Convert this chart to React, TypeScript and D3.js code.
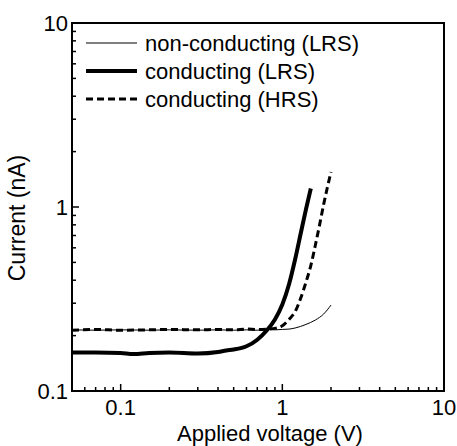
import { useEffect, useRef } from "react";
import * as d3 from "d3";

// voltage (V) and current (nA)
const nonCondV = [0.05, 0.07, 0.1, 0.15, 0.2, 0.3, 0.4, 0.5, 0.6, 0.7, 0.8, 0.9, 1.0, 1.1, 1.2, 1.4, 1.6, 1.8, 2.0];
const nonCondI = [0.215, 0.214, 0.215, 0.214, 0.215, 0.214, 0.215, 0.214, 0.215, 0.214, 0.216, 0.215, 0.216, 0.217, 0.22, 0.23, 0.243, 0.262, 0.293];

const condLrsV = [0.05, 0.07, 0.1, 0.12, 0.15, 0.2, 0.3, 0.4, 0.45, 0.5, 0.6, 0.7, 0.8, 0.9, 1.0, 1.1, 1.2, 1.3, 1.4, 1.5];
const condLrsI = [0.162, 0.162, 0.161, 0.159, 0.161, 0.162, 0.16, 0.163, 0.166, 0.168, 0.175, 0.19, 0.213, 0.245, 0.295, 0.38, 0.52, 0.72, 0.97, 1.26];

const condHrsV = [0.05, 0.07, 0.1, 0.15, 0.2, 0.3, 0.4, 0.5, 0.6, 0.7, 0.8, 0.9, 1.0, 1.1, 1.2, 1.3, 1.4, 1.5, 1.6, 1.7, 1.8, 1.9, 2.0];
const condHrsI = [0.214, 0.216, 0.214, 0.215, 0.216, 0.215, 0.216, 0.215, 0.217, 0.216, 0.217, 0.219, 0.226, 0.245, 0.27, 0.32, 0.39, 0.48, 0.62, 0.8, 1.03, 1.28, 1.55];

const legendLabels = ["non-conducting (LRS)", "conducting (LRS)", "conducting (HRS)"];
const xTickLabels = [0.1, 1, 10];
const yTickLabels = [0.1, 1, 10];

function App() {
  const svgRef = useRef<SVGSVGElement | null>(null);

  useEffect(() => {
    const svg = d3.select(svgRef.current);
    svg.selectAll("*").remove();

    const margin = { top: 23, right: 13, bottom: 55, left: 72 };
    const width = 457;
    const height = 446;

    const x = d3.scaleLog().domain([0.05, 10]).range([margin.left, width - margin.right]);
    const y = d3.scaleLog().domain([0.1, 10]).range([height - margin.bottom, margin.top]);

    const font = "Liberation Sans, Arial, sans-serif";

    // minor / major ticks, drawn inward
    const xMinor = [0.06, 0.07, 0.08, 0.09, 0.2, 0.3, 0.4, 0.5, 0.6, 0.7, 0.8, 0.9, 2, 3, 4, 5, 6, 7, 8, 9];
    const yMinor = [0.2, 0.3, 0.4, 0.5, 0.6, 0.7, 0.8, 0.9, 2, 3, 4, 5, 6, 7, 8, 9];
    const y0 = height - margin.bottom;

    svg.append("g")
      .selectAll("line")
      .data(xMinor)
      .join("line")
      .attr("x1", (d) => x(d)).attr("x2", (d) => x(d))
      .attr("y1", y0).attr("y2", y0 - 4)
      .attr("stroke", "#000").attr("stroke-width", 1.5);

    svg.append("g")
      .selectAll("line")
      .data(xTickLabels.slice(0, 2))
      .join("line")
      .attr("x1", (d) => x(d)).attr("x2", (d) => x(d))
      .attr("y1", y0).attr("y2", y0 - 7)
      .attr("stroke", "#000").attr("stroke-width", 1.5);

    svg.append("g")
      .selectAll("line")
      .data(yMinor)
      .join("line")
      .attr("x1", margin.left).attr("x2", margin.left + 4)
      .attr("y1", (d) => y(d)).attr("y2", (d) => y(d))
      .attr("stroke", "#000").attr("stroke-width", 1.5);

    svg.append("g")
      .selectAll("line")
      .data(yTickLabels.slice(1, 2))
      .join("line")
      .attr("x1", margin.left).attr("x2", margin.left + 7)
      .attr("y1", (d) => y(d)).attr("y2", (d) => y(d))
      .attr("stroke", "#000").attr("stroke-width", 1.5);

    // tick labels
    svg.append("g")
      .selectAll("text")
      .data(xTickLabels)
      .join("text")
      .attr("x", (d) => x(d))
      .attr("y", y0 + 24)
      .attr("text-anchor", "middle")
      .attr("font-family", font)
      .attr("font-size", 22)
      .text((d) => String(d));

    svg.append("g")
      .selectAll("text")
      .data(yTickLabels)
      .join("text")
      .attr("x", margin.left - 4)
      .attr("y", (d) => y(d))
      .attr("dy", "0.35em")
      .attr("text-anchor", "end")
      .attr("font-family", font)
      .attr("font-size", 22)
      .text((d) => String(d));

    // axis titles
    svg.append("text")
      .attr("x", 270)
      .attr("y", 441)
      .attr("text-anchor", "middle")
      .attr("font-family", font)
      .attr("font-size", 22)
      .text("Applied voltage (V)");

    svg.append("text")
      .attr("transform", "translate(25,218) rotate(-90)")
      .attr("text-anchor", "middle")
      .attr("font-family", font)
      .attr("font-size", 23)
      .text("Current (nA)");

    // curves
    const line = d3.line<[number, number]>()
      .x((d) => x(d[0]))
      .y((d) => y(d[1]))
      .curve(d3.curveMonotoneX);

    const series = [
      { v: nonCondV, i: nonCondI, w: 1, dash: null },
      { v: condHrsV, i: condHrsI, w: 3, dash: "7,4" },
      { v: condLrsV, i: condLrsI, w: 4, dash: null },
    ];

    series.forEach((s) => {
      svg.append("path")
        .datum(s.v.map((v, k) => [v, s.i[k]] as [number, number]))
        .attr("d", line)
        .attr("fill", "none")
        .attr("stroke", "#000")
        .attr("stroke-width", s.w)
        .attr("stroke-dasharray", s.dash);
    });

    // legend
    const legendStyles = [
      { w: 1, dash: null },
      { w: 4, dash: null },
      { w: 3, dash: "7,4" },
    ];
    const leg = svg.append("g");
    legendLabels.forEach((label, k) => {
      const ly = 43 + k * 28;
      leg.append("line")
        .attr("x1", 86).attr("x2", 137)
        .attr("y1", ly).attr("y2", ly)
        .attr("stroke", "#000")
        .attr("stroke-width", legendStyles[k].w)
        .attr("stroke-dasharray", legendStyles[k].dash);
      leg.append("text")
        .attr("x", 145)
        .attr("y", ly)
        .attr("dy", "0.35em")
        .attr("font-family", font)
        .attr("font-size", 22)
        .text(label);
    });

    // frame
    svg.append("rect")
      .attr("x", margin.left)
      .attr("y", margin.top)
      .attr("width", width - margin.left - margin.right)
      .attr("height", height - margin.top - margin.bottom)
      .attr("fill", "none")
      .attr("stroke", "#000")
      .attr("stroke-width", 2);
  }, []);

  return (
    <svg
      ref={svgRef}
      width={457}
      height={446}
      style={{ position: "absolute", left: 0, top: 0, background: "#fff" }}
    />
  );
}

export default App;
